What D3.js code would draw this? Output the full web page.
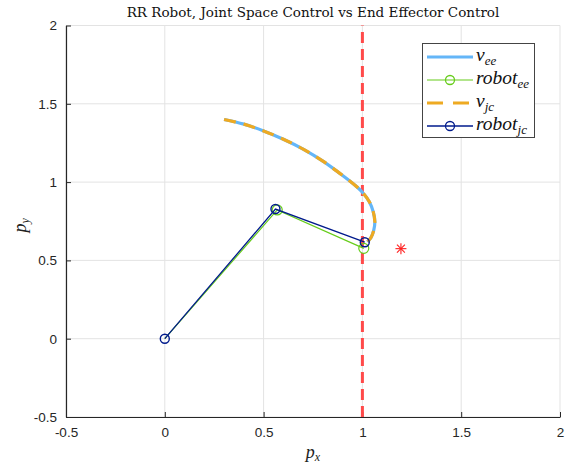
<!DOCTYPE html>
<html><head><meta charset="utf-8">
<script src="https://cdn.jsdelivr.net/npm/d3@7"></script>
<style>body{margin:0;background:#fff}svg{display:block}</style>
</head><body><svg id="c" width="572" height="466"></svg>
<script>
// ---- data ----
const xTicks = [-0.5, 0, 0.5, 1, 1.5, 2];
const yTicks = [-0.5, 0, 0.5, 1, 1.5, 2];
const eeTrajX = [0.30,0.40,0.50,0.60,0.70,0.80,0.90,0.97,1.00,1.035,1.055,1.063,1.057,1.043,1.025];
const eeTrajY = [1.40,1.37,1.327,1.274,1.211,1.134,1.042,0.972,0.935,0.875,0.81,0.747,0.69,0.645,0.618];
const jcTrajX = [0.30,0.40,0.50,0.60,0.70,0.80,0.90,0.97,1.00,1.035,1.055,1.063,1.057,1.043,1.025];
const jcTrajY = [1.40,1.37,1.327,1.274,1.211,1.134,1.042,0.972,0.935,0.875,0.81,0.747,0.69,0.645,0.618];
const robotEeX = [0, 0.569, 1.007];
const robotEeY = [0, 0.822, 0.577];
const robotJcX = [0, 0.560, 1.012];
const robotJcY = [0, 0.828, 0.616];
const wallX = 1;
const target = [1.195, 0.575];

const svg = d3.select('#c');
const L = 66, R = 560, T = 25.5, B = 417;
const x = d3.scaleLinear().domain([-0.5, 2]).range([L, R]);
const y = d3.scaleLinear().domain([-0.5, 2]).range([B, T]);
const axCol = '#262626';

// grid
const g = svg.append('g');
g.selectAll('.gx').data(xTicks).join('line').attr('x1', d => x(d)).attr('x2', d => x(d))
  .attr('y1', T).attr('y2', B).attr('stroke', '#e3e3e3').attr('stroke-width', 1);
g.selectAll('.gy').data(yTicks).join('line').attr('y1', d => y(d)).attr('y2', d => y(d))
  .attr('x1', L).attr('x2', R).attr('stroke', '#e3e3e3').attr('stroke-width', 1);

// axes
const xa = svg.append('g').attr('transform', `translate(0,${B})`)
  .call(d3.axisBottom(x).tickValues(xTicks).tickSizeInner(-5).tickSizeOuter(0).tickPadding(10).tickFormat(d => d));
const ya = svg.append('g').attr('transform', `translate(${L},0)`)
  .call(d3.axisLeft(y).tickValues(yTicks).tickSizeInner(-5).tickSizeOuter(0).tickPadding(9).tickFormat(d => d));
[xa, ya].forEach(a => {
  a.select('.domain').attr('stroke', axCol).attr('stroke-width', 1.2);
  a.selectAll('.tick line').attr('stroke', axCol);
  a.selectAll('.tick text').attr('fill', axCol).style('font-family', 'Liberation Sans, Arial, sans-serif').style('font-size', '13.5px');
});

const line = d3.line().x(d => x(d[0])).y(d => y(d[1]));
const curve = d3.line().x(d => x(d[0])).y(d => y(d[1])).curve(d3.curveCatmullRom.alpha(0.5));
const zip = (a, b) => a.map((v, i) => [v, b[i]]);

// wall
svg.append('path').attr('d', line([[wallX, -0.5], [wallX, 2]])).attr('fill', 'none')
  .attr('stroke', '#ff4a4a').attr('stroke-width', 3).attr('stroke-dasharray', '11,6');

// v_ee
svg.append('path').attr('d', curve(zip(eeTrajX, eeTrajY))).attr('fill', 'none')
  .attr('stroke', '#64b6f8').attr('stroke-width', 3.2);
// robot_ee
svg.append('path').attr('d', line(zip(robotEeX, robotEeY))).attr('fill', 'none')
  .attr('stroke', '#66cc1a').attr('stroke-width', 1.2);
svg.selectAll('.cee').data(zip(robotEeX, robotEeY).slice(1)).join('circle')
  .attr('cx', d => x(d[0])).attr('cy', d => y(d[1])).attr('r', 5)
  .attr('fill', 'none').attr('stroke', '#66cc1a').attr('stroke-width', 1.2);
// v_jc
svg.append('path').attr('d', curve(zip(jcTrajX, jcTrajY))).attr('fill', 'none')
  .attr('stroke', '#eeaa22').attr('stroke-width', 3.2).attr('stroke-dasharray', '12,8');
// robot_jc
svg.append('path').attr('d', line(zip(robotJcX, robotJcY))).attr('fill', 'none')
  .attr('stroke', '#001a8c').attr('stroke-width', 1.3);
svg.selectAll('.cjc').data(zip(robotJcX, robotJcY)).join('circle')
  .attr('cx', d => x(d[0])).attr('cy', d => y(d[1])).attr('r', 4.5)
  .attr('fill', 'none').attr('stroke', '#001a8c').attr('stroke-width', 1.4);

// target asterisk
const tx = x(target[0]), ty = y(target[1]), s = 5.5;
const star = svg.append('g').attr('stroke', '#ff2020').attr('stroke-width', 1.1);
[[s,0],[0,s],[s*0.72,s*0.72],[s*0.72,-s*0.72]].forEach(([dx, dy]) =>
  star.append('line').attr('x1', tx - dx).attr('y1', ty - dy).attr('x2', tx + dx).attr('y2', ty + dy));

// title & labels
svg.append('text').attr('x', (L + R) / 2).attr('y', 17).attr('text-anchor', 'middle')
  .style('font-family', 'DejaVu Serif, Liberation Serif, serif').style('font-size', '13.5px').attr('fill', '#111')
  .text('RR Robot, Joint Space Control vs End Effector Control');
const xl = svg.append('text').attr('x', (L + R) / 2).attr('y', 458).attr('text-anchor', 'middle')
  .style('font-family', 'Liberation Serif, serif').style('font-style', 'italic').style('font-size', '18px').attr('fill', '#222');
xl.append('tspan').text('p');
xl.append('tspan').attr('dy', 3).style('font-size', '12px').text('x');
const yl = svg.append('text').attr('transform', `translate(26,${(T + B) / 2 + 4}) rotate(-90)`).attr('text-anchor', 'middle')
  .style('font-family', 'Liberation Serif, serif').style('font-style', 'italic').style('font-size', '18px').attr('fill', '#222');
yl.append('tspan').text('p');
yl.append('tspan').attr('dy', 3).style('font-size', '12px').text('y');

// legend
const legend = [
  {base: 'v', sub: 'ee', color: '#64b6f8', w: 3.2, dash: null, marker: false},
  {base: 'robot', sub: 'ee', color: '#66cc1a', w: 1.2, dash: null, marker: true},
  {base: 'v', sub: 'jc', color: '#eeaa22', w: 3.2, dash: '16,10', marker: false},
  {base: 'robot', sub: 'jc', color: '#001a8c', w: 1.3, dash: null, marker: true}
];
const lg = svg.append('g');
lg.append('rect').attr('x', 422.5).attr('y', 43.5).attr('width', 112).attr('height', 94)
  .attr('fill', '#fff').attr('stroke', '#444').attr('stroke-width', 1);
legend.forEach((d, i) => {
  const yy = 57 + i * 23;
  lg.append('line').attr('x1', 427).attr('x2', 473).attr('y1', yy).attr('y2', yy)
    .attr('stroke', d.color).attr('stroke-width', d.w).attr('stroke-dasharray', d.dash);
  if (d.marker) lg.append('circle').attr('cx', 450).attr('cy', yy).attr('r', 4.5)
    .attr('fill', 'none').attr('stroke', d.color).attr('stroke-width', 1.3);
  const t = lg.append('text').attr('x', 476).attr('y', yy + 4)
    .style('font-family', 'Liberation Serif, serif').style('font-style', 'italic').style('font-size', '19.5px').attr('fill', '#111');
  t.append('tspan').text(d.base);
  t.append('tspan').attr('dy', 3.5).style('font-size', '13px').text(d.sub);
});
</script></body></html>
